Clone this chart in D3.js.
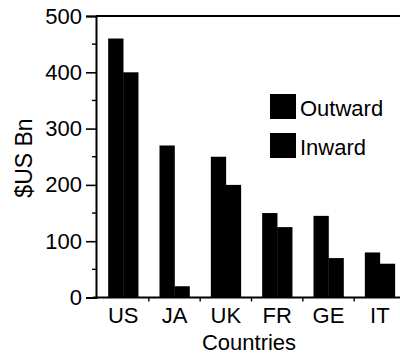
<!DOCTYPE html>
<html>
<head>
<meta charset="utf-8">
<script src="https://cdn.jsdelivr.net/npm/d3@7"></script>
<style>
  html, body { margin: 0; padding: 0; background: #fff; }
  svg { display: block; }
  text { font-family: "Liberation Sans", Arial, Helvetica, sans-serif; fill: #000; }
</style>
</head>
<body>
<svg id="chart" width="400" height="358"></svg>
<script>
// Foreign direct investment stock by country, $US billions
const categories = ["US", "JA", "UK", "FR", "GE", "IT"];
const outward = [460, 270, 250, 150, 145, 80];
const inward  = [400, 20, 200, 125, 70, 60];
const seriesNames = ["Outward", "Inward"];
const yTicks = [0, 100, 200, 300, 400, 500];
const yMinorTicks = [50, 150, 250, 350, 450];

const svg = d3.select("#chart");
const plotLeft = 96, plotRight = 405.5, plotTop = 16, plotBottom = 297.5;
const fontSize = 22;

const x = d3.scaleBand().domain(categories).range([97.5, plotRight]).padding(0);
const barW = 15;
const xSeries = d3.scaleBand().domain(seriesNames).range([-barW, barW]).padding(0);
const y = d3.scaleLinear().domain([0, 500]).range([plotBottom, plotTop]);

// bars
const g = svg.append("g");
const rows = categories.map((c, i) => ({ c, vals: [outward[i], inward[i]] }));
g.selectAll("g.grp").data(rows).join("g")
  .attr("class", "grp")
  .attr("transform", d => `translate(${x(d.c) + x.bandwidth() / 2},0)`)
  .selectAll("rect").data(d => d.vals.map((v, k) => ({ s: seriesNames[k], v })))
  .join("rect")
  .attr("x", d => xSeries(d.s))
  .attr("width", xSeries.bandwidth() + 0.3)
  .attr("y", d => y(d.v))
  .attr("height", d => y(0) - y(d.v))
  .attr("fill", "#000");

// y axis
const yAxis = d3.axisLeft(y).tickValues(yTicks).tickSize(10).tickPadding(4);
const ya = svg.append("g").attr("transform", `translate(${plotLeft},0)`).call(yAxis);
ya.attr("font-family", null).attr("font-size", null);
ya.select(".domain").attr("stroke", "#000").attr("stroke-width", 2);
ya.selectAll(".tick line").attr("stroke-width", 1.6);
ya.selectAll(".tick text").attr("font-size", fontSize);
// minor ticks
ya.selectAll("line.minor").data(yMinorTicks).join("line")
  .attr("class", "minor")
  .attr("x1", -4).attr("x2", 0)
  .attr("y1", d => y(d)).attr("y2", d => y(d))
  .attr("stroke", "#000").attr("stroke-width", 1.4);

// top frame line
svg.append("line")
  .attr("x1", plotLeft).attr("x2", 400).attr("y1", y(500)).attr("y2", y(500))
  .attr("stroke", "#000").attr("stroke-width", 2);

// x axis with ticks at the category boundaries
svg.append("line")
  .attr("x1", 93).attr("x2", 400).attr("y1", y(0)).attr("y2", y(0))
  .attr("stroke", "#000").attr("stroke-width", 2);
svg.selectAll("line.xtick").data(categories.slice(1)).join("line")
  .attr("class", "xtick")
  .attr("x1", d => x(d)).attr("x2", d => x(d))
  .attr("y1", y(0)).attr("y2", y(0) + 4)
  .attr("stroke", "#000").attr("stroke-width", 1.4);
svg.selectAll("text.xlab").data(categories).join("text")
  .attr("class", "xlab")
  .attr("x", d => x(d) + x.bandwidth() / 2)
  .attr("y", 323)
  .attr("text-anchor", "middle")
  .attr("font-size", fontSize)
  .text(d => d);

// axis titles
svg.append("text")
  .attr("x", 249).attr("y", 350)
  .attr("text-anchor", "middle")
  .attr("font-size", fontSize)
  .text("Countries");
svg.append("text")
  .attr("transform", "translate(32,158) rotate(-90)")
  .attr("text-anchor", "middle")
  .attr("font-size", 23)
  .text("$US Bn");

// legend
const legend = svg.append("g");
const legendY = [94, 133];
seriesNames.forEach((s, i) => {
  legend.append("rect")
    .attr("x", 270).attr("y", legendY[i])
    .attr("width", 26).attr("height", 25)
    .attr("fill", "#000");
  legend.append("text")
    .attr("x", 300).attr("y", legendY[i] + 22)
    .attr("font-size", fontSize)
    .text(s);
});
</script>
</body>
</html>
